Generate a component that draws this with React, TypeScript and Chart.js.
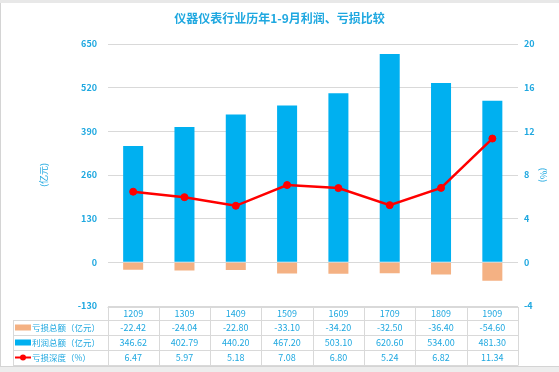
import React, { useEffect, useRef } from 'react';
import { Chart, registerables } from 'chart.js';

Chart.register(...registerables);

const categories = ['1209', '1309', '1409', '1509', '1609', '1709', '1809', '1909'];
const lossValues = [-22.42, -24.04, -22.8, -33.1, -34.2, -32.5, -36.4, -54.6];
const profitValues = [346.62, 402.79, 440.2, 467.2, 503.1, 620.6, 534.0, 481.3];
const lossDepth = [6.47, 5.97, 5.18, 7.08, 6.8, 5.24, 6.82, 11.34];
const leftAxisRange = [-130, 650, 130];
const rightAxisRange = [-4, 20, 4];

const TITLE = '仪器仪表行业历年1-9月利润、亏损比较';
const LOSS_LABEL = '亏损总额（亿元）';
const PROFIT_LABEL = '利润总额（亿元）';
const DEPTH_LABEL = '亏损深度（%）';

const BLUE_TEXT = '#1FA8E0';
const PROFIT_COLOR = '#00B0F0';
const LOSS_COLOR = '#F4B183';
const LINE_COLOR = '#FF0000';
const GRID = '#D9D9D9';
const FONT = "'Noto Sans CJK SC', 'Noto Sans', sans-serif";

const framePlugin = {
  id: 'frame',
  beforeDraw(chart: any) {
    const { ctx, width, height } = chart;
    ctx.save();
    ctx.fillStyle = '#FFFFFF';
    ctx.fillRect(0, 0, width, height);
    ctx.fillStyle = '#E8E8E8';
    ctx.fillRect(0, 0, width, 3);
    ctx.fillStyle = '#EDEDED';
    ctx.fillRect(0, 367, width, height - 367);
    ctx.fillStyle = '#D4D4D4';
    ctx.fillRect(0, 3, 1, 364);
    ctx.fillRect(0, 366, width, 1);
    ctx.restore();
  },
};

const tablePlugin = {
  id: 'dataTable',
  afterDraw(chart: any) {
    const { ctx, chartArea } = chart;
    const xs = chart.scales.x;
    const n = categories.length;
    const colW = (chartArea.right - chartArea.left) / n;
    const top = Math.round(chartArea.bottom) + 1;
    const ys = [top, top + 13, top + 28, top + 43, top + 58];
    const headerLeft = 13;
    const px = (v: number) => Math.round(v) + 0.5;

    ctx.save();
    ctx.strokeStyle = GRID;
    ctx.lineWidth = 1;
    ctx.beginPath();
    ctx.moveTo(chartArea.left, px(ys[0]));
    ctx.lineTo(chartArea.right, px(ys[0]));
    for (let r = 1; r < ys.length; r++) {
      ctx.moveTo(headerLeft, px(ys[r]));
      ctx.lineTo(chartArea.right, px(ys[r]));
    }
    for (let i = 0; i <= n; i++) {
      const x = px(xs.getPixelForValue(0) - colW / 2 + i * colW);
      ctx.moveTo(x, ys[0]);
      ctx.lineTo(x, ys[4] + 0.5);
    }
    ctx.moveTo(px(headerLeft), ys[1]);
    ctx.lineTo(px(headerLeft), ys[4] + 0.5);
    ctx.stroke();

    ctx.fillStyle = BLUE_TEXT;
    ctx.textAlign = 'center';
    ctx.textBaseline = 'middle';
    ctx.font = `9px ${FONT}`;
    categories.forEach((c, i) => {
      ctx.fillText(c, xs.getPixelForValue(i), (ys[0] + ys[1]) / 2);
    });

    const rows = [
      { label: LOSS_LABEL, values: lossValues, key: 'loss' },
      { label: PROFIT_LABEL, values: profitValues, key: 'profit' },
      { label: DEPTH_LABEL, values: lossDepth, key: 'line' },
    ];
    rows.forEach((row, r) => {
      const cy = (ys[r + 1] + ys[r + 2]) / 2;
      ctx.fillStyle = BLUE_TEXT;
      ctx.textAlign = 'center';
      ctx.font = `9px ${FONT}`;
      row.values.forEach((v, i) => {
        ctx.fillText(v.toFixed(2), xs.getPixelForValue(i), cy);
      });
      // legend key
      if (row.key === 'loss' || row.key === 'profit') {
        ctx.fillStyle = row.key === 'loss' ? LOSS_COLOR : PROFIT_COLOR;
        ctx.fillRect(15, cy - 3, 16, 6);
      } else {
        ctx.strokeStyle = LINE_COLOR;
        ctx.lineWidth = 2;
        ctx.beginPath();
        ctx.moveTo(15, cy);
        ctx.lineTo(31, cy);
        ctx.stroke();
        ctx.fillStyle = LINE_COLOR;
        ctx.beginPath();
        ctx.arc(23, cy, 3, 0, Math.PI * 2);
        ctx.fill();
      }
      ctx.fillStyle = BLUE_TEXT;
      ctx.textAlign = 'left';
      ctx.font = `8.5px ${FONT}`;
      ctx.fillText(row.label, 32, cy);
    });
    ctx.restore();
  },
};

export default function App() {
  const ref = useRef<HTMLCanvasElement | null>(null);

  useEffect(() => {
    if (!ref.current) return;
    Chart.defaults.font.family = FONT;
    const chart = new Chart(ref.current, {
      type: 'bar',
      data: {
        labels: categories,
        datasets: [
          {
            type: 'line',
            label: DEPTH_LABEL,
            data: lossDepth,
            yAxisID: 'y1',
            borderColor: LINE_COLOR,
            backgroundColor: LINE_COLOR,
            borderWidth: 2.5,
            pointRadius: 3.5,
            pointBackgroundColor: LINE_COLOR,
            pointBorderColor: LINE_COLOR,
            pointBorderWidth: 1,
            tension: 0,
            order: 0,
          } as any,
          {
            type: 'bar',
            label: PROFIT_LABEL,
            data: profitValues,
            yAxisID: 'y',
            backgroundColor: PROFIT_COLOR,
            grouped: false,
            barPercentage: 0.39,
            categoryPercentage: 1,
            order: 1,
          } as any,
          {
            type: 'bar',
            label: LOSS_LABEL,
            data: lossValues,
            yAxisID: 'y',
            backgroundColor: LOSS_COLOR,
            grouped: false,
            barPercentage: 0.39,
            categoryPercentage: 1,
            order: 2,
          } as any,
        ],
      },
      options: {
        responsive: false,
        animation: false,
        events: [],
        layout: { padding: { top: 0, left: 0, right: 0, bottom: 66 } },
        plugins: {
          legend: { display: false },
          tooltip: { enabled: false },
          title: {
            display: true,
            text: TITLE,
            color: BLUE_TEXT,
            font: { size: 12, weight: 'bold', family: FONT },
            padding: { top: 10.8, bottom: 18.8 },
          },
        },
        scales: {
          x: {
            display: false,
            offset: true,
          },
          y: {
            position: 'left',
            min: leftAxisRange[0],
            max: leftAxisRange[1],
            ticks: {
              stepSize: leftAxisRange[2],
              color: BLUE_TEXT,
              font: { size: 9, weight: 'bold', family: FONT },
              padding: 10.5,
            },
            grid: { color: GRID, lineWidth: 1, drawTicks: false },
            border: { display: false },
            title: {
              display: true,
              text: '(亿元)',
              color: BLUE_TEXT,
              font: { size: 9, family: FONT },
              padding: { top: 38.6, bottom: 0 },
            },
            afterFit: (s: any) => {
              s.width = 107.5;
            },
          },
          y1: {
            position: 'right',
            min: rightAxisRange[0],
            max: rightAxisRange[1],
            ticks: {
              stepSize: rightAxisRange[2],
              color: BLUE_TEXT,
              font: { size: 9, weight: 'bold', family: FONT },
              padding: 6,
            },
            grid: { display: false, drawTicks: false },
            border: { display: false },
            title: {
              display: true,
              text: '(%)',
              color: BLUE_TEXT,
              font: { size: 9, family: FONT },
              padding: { top: 10.6, bottom: 0 },
            },
            afterFit: (s: any) => {
              s.width = 41;
            },
          },
        },
      } as any,
      plugins: [framePlugin, tablePlugin],
    });
    return () => chart.destroy();
  }, []);

  return (
    <div style={{ position: 'fixed', left: 0, top: 0, width: 559, height: 372 }}>
      <canvas ref={ref} width={559} height={372} style={{ display: 'block' }} />
    </div>
  );
}
